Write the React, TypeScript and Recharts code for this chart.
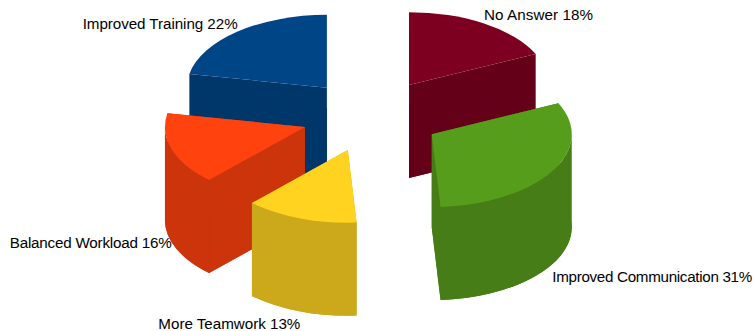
import { Pie, PieChart } from 'recharts'

// Slices in paint order: back ones first, so the exploded front ones overlap them.
const categories = ['No Answer', 'Improved Training', 'Balanced Workload', 'More Teamwork', 'Improved Communication']
const shares = [18, 22, 16, 13, 31]
const topColors = ['#7e0021', '#004586', '#ff420e', '#ffd320', '#579d1c']
const sideColors = ['#650019', '#00376b', '#cc340b', '#cca91a', '#467d16']
const labelWidths = [109, 155, 162, 142, 200]

const rows = categories.map((name, i) => ({ name, share: shares[i], fill: topColors[i], side: sideColors[i] }))

const WIDTH = 755
const HEIGHT = 331
const CENTER_X = 371.5
const CENTER_Y = 115.7
const RADIUS = 140
const SQUASH = 0.52 // vertical flattening of the disc
const DEPTH = 93 // extrusion height of the pie
const EXPLODE = 0.5 // slice offset as a fraction of the radius

const RAD = Math.PI / 180
const total = shares.reduce((a, b) => a + b, 0)
// counter-clockwise from the right edge of the first slice, so it lands at twelve o'clock
const startAngle = 90 - (360 * shares[0]) / total

type Pt = [number, number]

const onDisc = (ox: number, oy: number, r: number, angle: number): Pt => [
  ox + r * Math.cos(angle * RAD),
  oy - r * SQUASH * Math.sin(angle * RAD),
]

const apexOf = (cx: number, cy: number, r: number, mid: number) => onDisc(cx, cy, r * EXPLODE, mid)

const arcTo = (r: number, p: Pt, large: boolean, sweep: boolean) =>
  `A${r} ${r * SQUASH} 0 ${large ? 1 : 0} ${sweep ? 1 : 0} ${p[0]} ${p[1]}`

const down = (p: Pt): Pt => [p[0], p[1] + DEPTH]

function Wedge(props: any) {
  const { cx, cy, outerRadius: r, startAngle: a0, endAngle: a1, midAngle, fill, side } = props
  const apex = apexOf(cx, cy, r, midAngle)
  const [ax, ay] = apex
  const hi = Math.max(a0, a1)
  const lo = Math.min(a0, a1)
  const first = onDisc(ax, ay, r, hi)
  const last = onDisc(ax, ay, r, lo)
  const large = hi - lo > 180
  const sector = (o: Pt, p: Pt, q: Pt) => `M${o[0]} ${o[1]}L${p[0]} ${p[1]}${arcTo(r, q, large, true)}Z`
  const quad = (p: Pt, q: Pt) => {
    const [p2, q2] = [down(p), down(q)]
    return `M${p[0]} ${p[1]}L${q[0]} ${q[1]}L${q2[0]} ${q2[1]}L${p2[0]} ${p2[1]}Z`
  }

  // outer wall only where the rim faces the viewer (180..360 in recharts angles)
  const base = ((lo % 360) + 360) % 360
  const from = Math.max(base, 180)
  const to = Math.min(base + hi - lo, 360)
  let wall = null
  if (to > from) {
    const p = onDisc(ax, ay, r, to)
    const q = onDisc(ax, ay, r, from)
    const [p2, q2] = [down(p), down(q)]
    const d = `M${p[0]} ${p[1]}${arcTo(r, q, false, true)}L${q2[0]} ${q2[1]}${arcTo(r, p2, false, false)}Z`
    wall = <path d={d} fill={side} />
  }

  return (
    <g>
      <path d={sector(down(apex), down(first), down(last))} fill={side} />
      <path d={quad(apex, first)} fill={side} />
      <path d={quad(apex, last)} fill={side} />
      {wall}
      <path d={sector(apex, first, last)} fill={fill} />
    </g>
  )
}

function SliceLabel(props: any) {
  const { cx, cy, outerRadius: r, midAngle, name, value, index } = props
  const [ax, ay] = apexOf(cx, cy, r, midAngle)
  const [x, rimY] = onDisc(ax, ay, r, midAngle)
  const s = Math.sin(midAngle * RAD)
  const right = Math.cos(midAngle * RAD) > 0
  // rim point on the base for the lower half, on the top face for the upper half
  let y = rimY - 3
  if (s < 0) y = rimY + DEPTH + (s > -0.35 ? 6 : 17.5)
  return (
    <text
      x={x}
      y={y}
      textAnchor={right ? 'start' : 'end'}
      textLength={labelWidths[index]}
      lengthAdjust="spacing"
      fontFamily="Liberation Sans"
      fontSize={15.2}
      fill="#000"
    >
      {`${name} ${value}%`}
    </text>
  )
}

export default function App() {
  return (
    <div style={{ position: 'absolute', left: 0, top: 0, width: WIDTH, height: HEIGHT }}>
      <PieChart width={WIDTH} height={HEIGHT} margin={{ top: 0, right: 0, bottom: 0, left: 0 }}>
        <Pie
          data={rows}
          dataKey="share"
          nameKey="name"
          cx={CENTER_X}
          cy={CENTER_Y}
          outerRadius={RADIUS}
          startAngle={startAngle}
          endAngle={startAngle + 360}
          stroke="none"
          shape={Wedge}
          label={SliceLabel}
          labelLine={false}
          isAnimationActive={false}
        />
      </PieChart>
    </div>
  )
}
